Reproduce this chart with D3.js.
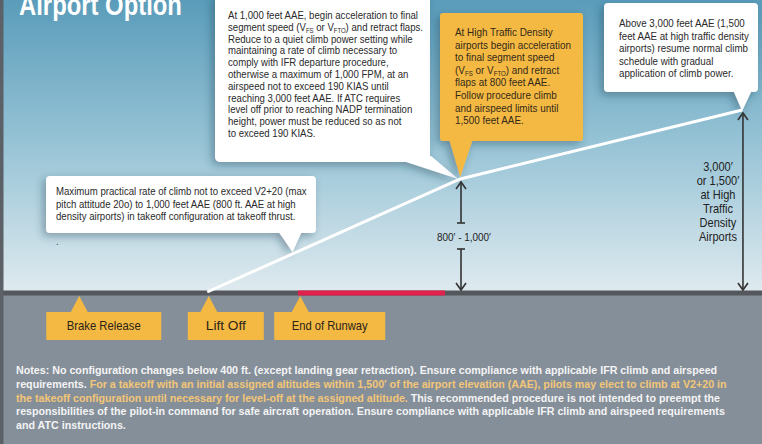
<!DOCTYPE html>
<html>
<head>
<meta charset="utf-8">
<script src="https://cdn.jsdelivr.net/npm/d3@7"></script>
<style>
  body { margin: 0; background: #858f9a; }
  svg { display: block; }
  text { font-family: "Liberation Sans", Arial, sans-serif; }
</style>
</head>
<body>
<svg></svg>
<script>
// ground markers (distance units along the runway, 0-100 across the picture)
let markerNames = ['Brake Release', 'Lift Off', 'End of Runway']
let markerDist = [10.4, 27.4, 39.4]

// climb profile
let pathDist = [27.2, 60.4, 97.4]
let pathAlt = [0, 1000, 3000]

// red segment after the end of runway
let runwayEnd = [39.1, 58.4]

// altitude arrows
let arrowDist = [60.5, 97.5]
let arrowAlt = [1000, 3000]
let arrowLabels = [["800\u2032 - 1,000\u2032"], ['3,000\u2032', 'or 1,500\u2032', 'at High', 'Traffic', 'Density', 'Airports']]

let calloutTop = [
  'At 1,000 feet AAE, begin acceleration to final',
  'segment speed (V_{FS} or V_{FTO}) and retract flaps.',
  'Reduce to a quiet climb power setting while',
  'maintaining a rate of climb necessary to',
  'comply with IFR departure procedure,',
  'otherwise a maximum of 1,000 FPM, at an',
  'airspeed not to exceed 190 KIAS until',
  'reaching 3,000 feet AAE. If ATC requires',
  'level off prior to reaching NADP termination',
  'height, power must be reduced so as not',
  'to exceed 190 KIAS.'
]
let calloutOrange = [
  'At High Traffic Density',
  'airports begin acceleration',
  'to final segment speed',
  '(V_{FS} or V_{FTO}) and retract',
  'flaps at 800 feet AAE.',
  'Follow procedure climb',
  'and airspeed limits until',
  '1,500 feet AAE.'
]
let calloutRight = [
  'Above 3,000 feet AAE (1,500',
  'feet AAE at high traffic density',
  'airports) resume normal climb',
  'schedule with gradual',
  'application of climb power.'
]
let calloutLow = [
  'Maximum practical rate of climb not to exceed V2+20 (max',
  'pitch attitude 20o) to 1,000 feet AAE (800 ft. AAE at high',
  'density airports) in takeoff configuration at takeoff thrust.'
]
let notes = [
  [['Notes: No configuration changes below 400 ft. (except landing gear retraction). Ensure compliance with applicable IFR climb and airspeed', 0]],
  [['requirements. ', 0], ['For a takeoff with an initial  assigned altitudes within 1,500\u2032 of the airport elevation (AAE), pilots may elect to climb at V2+20 in', 1]],
  [['the takeoff configuration until necessary for level-off at the assigned altitude.', 1], [' This recommended procedure is not intended to preempt the', 0]],
  [['responsibilities of the pilot-in command for safe aircraft operation. Ensure compliance with applicable IFR climb and airspeed requirements', 0]],
  [['and ATC instructions.', 0]]
]

let width = 762
let height = 444
let groundY = 292

let svg = d3.select('svg').attr('width', width).attr('height', height)

let xScale = d3.scaleLinear().domain([0, 100]).range([0, width])
let yScale = d3.scaleLinear().domain([0, 1000, 3000]).range([groundY, 179, 110])

let defs = svg.append('defs')
let grad = defs.append('linearGradient').attr('id', 'sky').attr('x1', 0).attr('y1', 0).attr('x2', 0).attr('y2', 1)
grad.append('stop').attr('offset', '0%').attr('stop-color', '#5a9cba')
grad.append('stop').attr('offset', '50%').attr('stop-color', '#98c4d6')
grad.append('stop').attr('offset', '100%').attr('stop-color', '#dfeaef')

let filt = defs.append('filter').attr('id', 'shadow').attr('x', '-20%').attr('y', '-20%').attr('width', '140%').attr('height', '150%')
filt.append('feDropShadow').attr('dx', -3).attr('dy', 3).attr('stdDeviation', 4)
  .attr('flood-color', '#1d3a4a').attr('flood-opacity', 0.4)

// sky + ground
svg.append('rect').attr('width', width).attr('height', groundY).attr('fill', 'url(#sky)')
svg.append('rect').attr('y', groundY).attr('width', width).attr('height', height - groundY).attr('fill', '#858f9a')
svg.append('rect').attr('y', groundY - 1.5).attr('width', width).attr('height', 5).attr('fill', '#54585d')
svg.append('rect')
  .attr('x', xScale(runwayEnd[0])).attr('y', groundY - 1.5)
  .attr('width', xScale(runwayEnd[1]) - xScale(runwayEnd[0])).attr('height', 5)
  .attr('fill', '#e0204d')
svg.append('rect').attr('x', 0).attr('width', 3.5).attr('height', height).attr('fill', '#5b6167')

// squeeze a block of text lines horizontally so one line has a given width
let squeeze = (g, x, y, refNode, target) => {
  let s = target / refNode.getComputedTextLength()
  g.attr('transform', 'translate(' + x + ',' + y + ') scale(' + s + ',1)')
}

// title
let titleG = svg.append('g')
let title = titleG.append('text').attr('fill', '#fff')
  .style('font-size', '30px').style('font-weight', 'bold').text('Airport Option')
squeeze(titleG, 19, 15, title.node(), 163)

// text helper with V_{XX} subscripts
let addLine = (sel, str, size) => {
  let parts = str.split(/_\{([^}]*)\}/)
  let back = 0
  parts.forEach((p, i) => {
    if (p === '') return
    if (i % 2 === 1) {
      sel.append('tspan').attr('dy', 2).style('font-size', (size * 0.62) + 'px').text(p)
      back = -2
    } else {
      sel.append('tspan').attr('dy', back).text(p)
      back = 0
    }
  })
}

let callout = (lines, box, tail, opts) => {
  let g = svg.append('g')
  if (opts.shadow) g.attr('filter', 'url(#shadow)')
  g.append('rect').attr('x', box[0]).attr('y', box[1]).attr('width', box[2]).attr('height', box[3])
    .attr('rx', opts.rx).attr('fill', opts.fill)
  g.append('path').attr('d', 'M' + tail.join('L') + 'Z').attr('fill', opts.fill)
  let t = svg.append('g')
  let nodes = []
  lines.forEach((l, i) => {
    let tx = t.append('text').attr('x', 0).attr('y', i * opts.lh)
      .attr('fill', opts.color).style('font-size', opts.size + 'px')
    addLine(tx, l, opts.size)
    nodes.push(tx.node())
  })
  squeeze(t, opts.tx, opts.ty, nodes[opts.ref], opts.refW)
}

callout(calloutTop, [215, -6, 215, 168], [[400, 160], [431, 156], [xScale(pathDist[1]) - 2, yScale(1000)]],
  { fill: '#fff', rx: 5, shadow: true, tx: 228, ty: 19, lh: 11.8, size: 10.6, color: '#2a2a2a', ref: 0, refW: 190 })
callout(calloutRight, [604, 3, 154, 89], [[733, 90], [752, 90], [xScale(pathDist[2]), yScale(3000) + 1]],
  { fill: '#fff', rx: 4, shadow: true, tx: 619, ty: 27, lh: 12.6, size: 10.8, color: '#2a2a2a', ref: 1, refW: 130 })
callout(calloutLow, [46, 176, 270, 57], [[278, 231], [302, 231], [xScale(pathDist[0] + 11.2), groundY - 40]],
  { fill: '#fff', rx: 4, shadow: true, tx: 56, ty: 195, lh: 12.6, size: 10.8, color: '#2a2a2a', ref: 0, refW: 251 })
svg.append('text').attr('x', 56).attr('y', 245).attr('fill', '#444').style('font-size', '10px').text('.')
callout(calloutOrange, [440, 13, 143, 128], [[449, 139], [473, 139], [xScale(pathDist[1]), yScale(1000) - 2]],
  { fill: '#f4b942', rx: 3, shadow: true, tx: 455, ty: 36, lh: 12.6, size: 11.2, color: '#33291a', ref: 1, refW: 116 })

// climb profile
let line = d3.line().x((d, i) => xScale(pathDist[i])).y((d, i) => yScale(pathAlt[i]))
svg.append('path').datum(pathAlt).attr('d', line)
  .attr('fill', 'none').attr('stroke', '#fff').attr('stroke-width', 3)

// altitude arrows
let arrowColor = '#333'
let head = (x, y, dir) => {
  svg.append('path').attr('d', 'M' + (x - 5) + ',' + (y + dir * 7) + 'L' + x + ',' + y + 'L' + (x + 5) + ',' + (y + dir * 7))
    .attr('fill', 'none').attr('stroke', arrowColor).attr('stroke-width', 1.6)
}
let cap = (x, y) => {
  svg.append('line').attr('x1', x - 4).attr('x2', x + 4).attr('y1', y).attr('y2', y)
    .attr('stroke', arrowColor).attr('stroke-width', 1.6)
}
let vline = (x, y1, y2) => {
  svg.append('line').attr('x1', x).attr('x2', x).attr('y1', y1).attr('y2', y2)
    .attr('stroke', arrowColor).attr('stroke-width', 1.6)
}

// 800'-1,000' arrow (split by label)
let ax = xScale(arrowDist[0])
let top1 = yScale(arrowAlt[0]) + 3
let bot1 = groundY - 2
let mid1 = (top1 + bot1) / 2
vline(ax, top1, mid1 - 13); head(ax, top1, 1); cap(ax, mid1 - 13)
vline(ax, mid1 + 13, bot1); head(ax, bot1, -1); cap(ax, mid1 + 13)
let lab1G = svg.append('g')
let lab1 = lab1G.append('text').attr('text-anchor', 'middle')
  .attr('fill', '#222').style('font-size', '11.8px').text(arrowLabels[0][0])
squeeze(lab1G, ax + 3, mid1 + 5, lab1.node(), 54)

// 3,000' arrow
let bx = xScale(arrowDist[1])
let top2 = yScale(arrowAlt[1]) + 3
vline(bx, top2, bot1); head(bx, top2, 1); head(bx, bot1, -1)
let lab2G = svg.append('g')
let lab2Nodes = arrowLabels[1].map((l, i) => lab2G.append('text').attr('y', i * 14.1).attr('text-anchor', 'middle')
  .attr('fill', '#222').style('font-size', '12px').text(l).node())
squeeze(lab2G, bx - 25, 171, lab2Nodes[5], 38)

// ground markers
let markerW = [74, 40, 76]
let markerBox = [[-33, 115], [-21, 76], [-26, 111]]
markerNames.forEach((name, i) => {
  let tip = xScale(markerDist[i])
  let g = svg.append('g')
  let bw = markerBox[i][1]
  let left = tip + markerBox[i][0]
  g.append('rect').attr('x', left).attr('y', 312).attr('width', bw).attr('height', 28).attr('fill', '#f4b942')
  g.append('path').attr('d', 'M' + (tip - 9) + ',313L' + tip + ',' + (groundY + 4) + 'L' + (tip + 9) + ',313Z').attr('fill', '#f4b942')
  let tg = g.append('g')
  let txt = tg.append('text').attr('fill', '#2a2418').attr('text-anchor', 'middle')
    .style('font-size', '12.8px').text(name)
  squeeze(tg, left + bw / 2, 330, txt.node(), markerW[i])
})

// notes
let notesG = svg.append('g')
let noteNodes = notes.map((parts, i) => {
  let t = notesG.append('text').attr('y', i * 13.8)
    .style('font-size', '11.2px').style('font-weight', 'bold')
  parts.forEach(p => {
    t.append('tspan').attr('fill', p[1] ? '#f3c677' : '#f4f4f4').text(p[0])
  })
  return t.node()
})
squeeze(notesG, 16, 374, noteNodes[3], 709)
</script>
</body>
</html>
